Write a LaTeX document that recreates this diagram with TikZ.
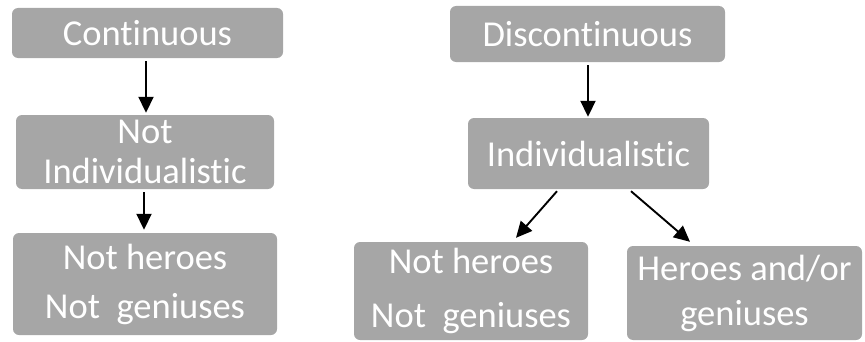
\documentclass[tikz,border=0pt]{standalone}
\usepackage{fontspec}
\setmainfont[RawFeature=-liga]{Carlito}
\usetikzlibrary{arrows.meta,calc}
\definecolor{boxgray}{HTML}{A6A6A6}
\tikzset{
  box/.style={fill=boxgray, rounded corners=6pt, text=white, align=center, inner sep=0pt},
  arr/.style={line width=1.9pt, -{Triangle[width=15pt,length=16pt]}}
}
\begin{document}
\begin{tikzpicture}[x=1pt,y=1pt]
\useasboundingbox (0,0) rectangle (865,341);
% left column
\node[box, minimum width=271pt, minimum height=50pt, font=\fontsize{36.5}{40}\selectfont] (c1) at (147.5,308) {Continuous};
\node[box, minimum width=258pt, minimum height=74pt, font=\fontsize{36.5}{40}\selectfont] (c2) at (145,189) {Not\\Individualistic};
\node[box, minimum width=264pt, minimum height=102pt, font=\fontsize{36.5}{49}\selectfont] (c3) at (145,57) {Not heroes\\Not\ \ geniuses};
% right column
\node[box, minimum width=275pt, minimum height=56pt, font=\fontsize{36.5}{40}\selectfont] (d1) at (587.5,307) {Discontinuous};
\node[box, minimum width=241pt, minimum height=71pt, font=\fontsize{36.5}{40}\selectfont] (d2) at (588.5,187.5) {Individualistic};
\node[box, minimum width=234pt, minimum height=98pt, font=\fontsize{36.5}{54}\selectfont] (d3) at (471,50) {Not heroes\\Not\ \ geniuses};
\node[box, minimum width=235pt, minimum height=94pt, font=\fontsize{36.5}{45}\selectfont] (d4) at (744.5,48) {Heroes and/or\\geniuses};
% connectors
\draw[arr] ($(c1.south)+(-1.5,-3)$) -- ($(c2.north)+(1,2)$);
\draw[arr] ($(c2.south)+(-1,-3)$) -- ($(c3.north)+(-1,3)$);
\draw[arr] ($(d1.south)+(0.5,-3)$) -- ($(d2.north)+(-0.5,1)$);
\draw[arr] ($(d2.south)+(-31.5,-2)$) -- ($(d3.north)+(45,4)$);
\draw[arr] ($(d2.south)+(42.5,-2)$) -- ($(d4.north)+(-54.5,4)$);
\end{tikzpicture}
\end{document}
